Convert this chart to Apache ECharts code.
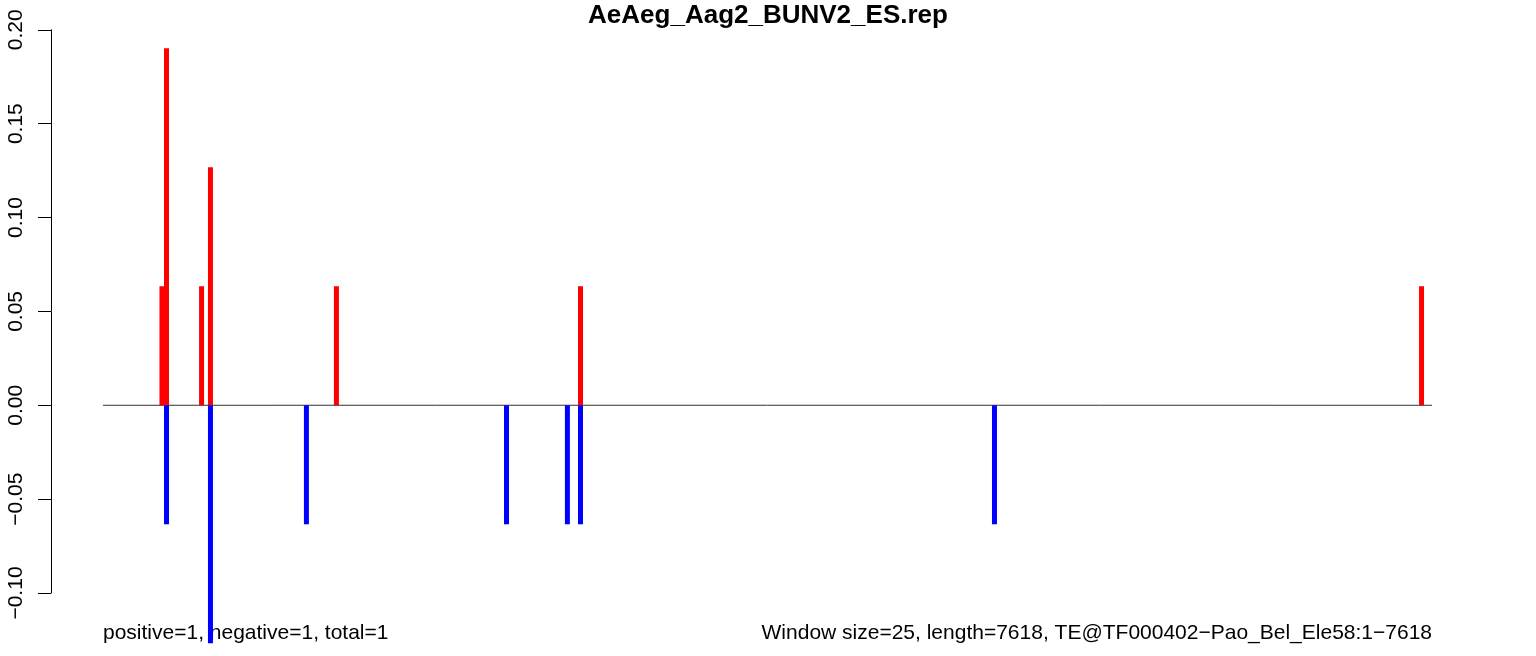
<!DOCTYPE html>
<html>
<head>
<meta charset="utf-8">
<script src="https://cdn.jsdelivr.net/npm/echarts@6/dist/echarts.min.js"></script>
<style>
html,body{margin:0;padding:0;background:#fff;}
#main{width:1536px;height:656px;}
</style>
</head>
<body>
<div id="main"></div>
<script>
// Data (positions in bp)
var titleText = "AeAeg_Aag2_BUNV2_ES.rep";
var seqLength = 7618;
var positivePos = [338, 364, 565, 616, 1338, 2737, 7558];
var positiveVal = [0.0634, 0.1902, 0.0634, 0.1268, 0.0634, 0.0634, 0.0634];
var negativePos = [364, 616, 1166, 2313, 2662, 2737, 5110];
var negativeVal = [-0.0634, -0.1268, -0.0634, -0.0634, -0.0634, -0.0634, -0.0634];
var yTicks = [-0.10, -0.05, 0.00, 0.05, 0.10, 0.15, 0.20];
var footLeft = "positive=1, negative=1, total=1";
var footRight = "Window size=25, length=7618, TE@TF000402\u2212Pao_Bel_Ele58:1\u22127618";

var posData = positivePos.map(function(p, i){ return [p, positiveVal[i]]; });
var negData = negativePos.map(function(p, i){ return [p, negativeVal[i]]; });

var chart = echarts.init(document.getElementById('main'), null, {renderer: 'canvas'});
var font = "'Liberation Sans', Arial, Helvetica, sans-serif";
chart.setOption({
  animation: false,
  backgroundColor: '#ffffff',
  title: {
    text: titleText,
    left: 'center',
    top: 3,
    padding: 0,
    textStyle: {fontFamily: font, fontWeight: 'bold', fontSize: 26, color: '#000'}
  },
  grid: {left: 103, right: 104, top: 29.8, bottom: 63, containLabel: false},
  xAxis: {
    type: 'value', min: 0, max: seqLength,
    show: false
  },
  yAxis: {
    type: 'value', min: yTicks[0], max: yTicks[yTicks.length - 1], interval: 0.05,
    offset: 52,
    axisLine: {show: true, onZero: false, lineStyle: {color: '#000', width: 1}},
    axisTick: {show: true, length: 13, lineStyle: {color: '#000', width: 1}},
    splitLine: {show: false},
    axisLabel: {
      rotate: 90, margin: 24, fontSize: 21, fontFamily: font, color: '#000',
      formatter: function(v){
        var s = Math.abs(v).toFixed(2);
        return (v < -1e-9 ? '\u2212' : '') + s;
      }
    }
  },
  series: [
    {
      type: 'line', data: [[0, 0], [seqLength, 0]],
      symbol: 'none', lineStyle: {color: '#333333', width: 1}, z: 1, silent: true
    },
    {
      type: 'bar', data: posData, stack: 'a', barWidth: 5,
      itemStyle: {color: '#ff0000'}, clip: false, z: 2
    },
    {
      type: 'bar', data: negData, stack: 'a', barWidth: 5,
      itemStyle: {color: '#0000ff'}, clip: false, z: 2
    }
  ],
  graphic: [
    {type: 'text', left: 103, top: 623, style: {text: footLeft, font: '21px ' + font, fill: '#000'}},
    {type: 'text', right: 104, top: 623, style: {text: footRight, font: '21px ' + font, fill: '#000'}}
  ]
});
</script>
</body>
</html>
